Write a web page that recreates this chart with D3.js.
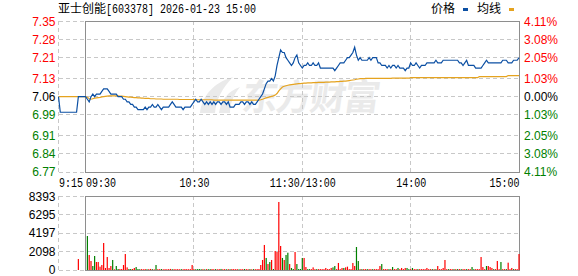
<!DOCTYPE html>
<html>
<head>
<meta charset="utf-8">
<script src="https://cdn.jsdelivr.net/npm/d3@7/dist/d3.min.js"></script>
<style>
  body { margin: 0; background: #fff; }
  svg { display: block; }
</style>
</head>
<body>
<script>
// ---- data ----
const stockName = '亚士创能';
const stockInfo = '[603378] 2026-01-23 15:00';
const legendNames = ['价格', '均线'];
const prevClose = 7.06;

const priceTicks = [7.35, 7.28, 7.21, 7.13, 7.06, 6.99, 6.91, 6.84, 6.77];
const priceLabels = ['7.35', '7.28', '7.21', '7.13', '7.06', '6.99', '6.91', '6.84', '6.77'];
const pctLabels = ['4.11%', '3.08%', '2.05%', '1.03%', '0.00%', '1.03%', '2.05%', '3.08%', '4.11%'];
const volTicks = [8393, 6295, 4197, 2098, 0];
const timeLabels = ['9:15', '09:30', '10:30', '11:30/13:00', '14:00', '15:00'];
const timeIdx = [0, 15, 75, 135, 195, 255]; // minutes after 9:15 on the axis (lunch removed)

// call auction 9:15 - 9:30
const prePrice = [7.06, 7.00, 7.00, 7.00, 7.00, 7.00, 7.00, 7.00, 7.00, 7.00, 7.00, 7.06, 7.06, 7.06, 7.06, 7.06];
const preAvg = [7.06, 7.06, 7.06, 7.06, 7.06, 7.06, 7.06, 7.06, 7.06, 7.06, 7.06, 7.06, 7.06, 7.06, 7.06, 7.06];
const preVolume = [0, 0, 0, 0, 0, 0, 0, 0, 0, 0, 0, 1250, 0, 0, 0, 0];

// one value per trading minute, 09:30 .. 11:30 then 13:01 .. 15:00
const price = [
  7.06, 7.05, 7.04, 7.06, 7.07, 7.06, 7.07, 7.07, 7.07, 7.08,
  7.09, 7.09, 7.09, 7.08, 7.07, 7.07, 7.07, 7.07, 7.06, 7.06,
  7.06, 7.05, 7.05, 7.04, 7.04, 7.03, 7.03, 7.02, 7.02, 7.01,
  7.01, 7.01, 7.01, 7.02, 7.01, 7.02, 7.02, 7.03, 7.02, 7.02,
  7.03, 7.02, 7.01, 7.02, 7.02, 7.02, 7.02, 7.03, 7.04, 7.03,
  7.02, 7.02, 7.02, 7.02, 7.01, 7.02, 7.02, 7.02, 7.02, 7.03,
  7.04, 7.05, 7.04, 7.04, 7.05, 7.04, 7.03, 7.04, 7.03, 7.04,
  7.03, 7.04, 7.03, 7.04, 7.04, 7.03, 7.04, 7.04, 7.03, 7.04,
  7.02, 7.02, 7.02, 7.03, 7.03, 7.03, 7.04, 7.04, 7.03, 7.04,
  7.04, 7.03, 7.04, 7.03, 7.03, 7.04, 7.05, 7.06, 7.07, 7.09,
  7.11, 7.12, 7.12, 7.13, 7.12, 7.14, 7.18, 7.21, 7.24, 7.23,
  7.23, 7.21, 7.20, 7.19, 7.18, 7.19, 7.21, 7.22, 7.19, 7.18,
  7.17, 7.18, 7.18, 7.19, 7.18, 7.18, 7.19, 7.18, 7.18, 7.19,
  7.17, 7.17, 7.17, 7.17, 7.17, 7.17, 7.17, 7.17, 7.16, 7.17,
  7.18, 7.19, 7.19, 7.19, 7.20, 7.21, 7.21, 7.22, 7.23, 7.25,
  7.22, 7.20, 7.21, 7.20, 7.20, 7.20, 7.20, 7.21, 7.20, 7.21,
  7.21, 7.21, 7.19, 7.19, 7.18, 7.18, 7.18, 7.17, 7.18, 7.17,
  7.18, 7.18, 7.17, 7.18, 7.17, 7.17, 7.17, 7.16, 7.17, 7.17,
  7.19, 7.18, 7.18, 7.19, 7.18, 7.17, 7.18, 7.18, 7.18, 7.19,
  7.19, 7.19, 7.19, 7.19, 7.20, 7.19, 7.19, 7.19, 7.20, 7.20,
  7.20, 7.20, 7.20, 7.20, 7.20, 7.20, 7.20, 7.19, 7.19, 7.18,
  7.19, 7.20, 7.18, 7.18, 7.18, 7.18, 7.17, 7.17, 7.17, 7.17,
  7.18, 7.19, 7.20, 7.19, 7.19, 7.19, 7.19, 7.19, 7.19, 7.19,
  7.19, 7.20, 7.20, 7.20, 7.19, 7.19, 7.19, 7.20, 7.20, 7.20,
  7.21
];

const avgPrice = [
  7.060, 7.058, 7.052, 7.050, 7.052, 7.054, 7.055, 7.056, 7.057, 7.059,
  7.060, 7.061, 7.062, 7.063, 7.063, 7.063, 7.063, 7.063, 7.063, 7.062,
  7.062, 7.061, 7.060, 7.059, 7.058, 7.058, 7.057, 7.056, 7.056, 7.055,
  7.055, 7.054, 7.054, 7.053, 7.053, 7.053, 7.052, 7.052, 7.052, 7.051,
  7.051, 7.051, 7.051, 7.050, 7.050, 7.050, 7.050, 7.050, 7.050, 7.050,
  7.050, 7.050, 7.049, 7.049, 7.049, 7.049, 7.049, 7.049, 7.049, 7.049,
  7.049, 7.048, 7.048, 7.048, 7.048, 7.048, 7.048, 7.048, 7.048, 7.048,
  7.048, 7.047, 7.047, 7.047, 7.047, 7.047, 7.047, 7.047, 7.047, 7.047,
  7.047, 7.047, 7.047, 7.047, 7.047, 7.047, 7.047, 7.047, 7.047, 7.047,
  7.047, 7.047, 7.047, 7.047, 7.047, 7.047, 7.047, 7.048, 7.050, 7.053,
  7.055, 7.057, 7.059, 7.061, 7.063, 7.066, 7.072, 7.082, 7.090, 7.097,
  7.100, 7.102, 7.104, 7.105, 7.106, 7.107, 7.108, 7.109, 7.110, 7.110,
  7.111, 7.112, 7.112, 7.113, 7.113, 7.113, 7.114, 7.114, 7.114, 7.115,
  7.115, 7.115, 7.115, 7.116, 7.116, 7.116, 7.117, 7.117, 7.117, 7.118,
  7.118, 7.119, 7.119, 7.120, 7.120, 7.121, 7.122, 7.123, 7.124, 7.125,
  7.127, 7.128, 7.129, 7.129, 7.129, 7.130, 7.130, 7.130, 7.130, 7.130,
  7.130, 7.130, 7.130, 7.130, 7.130, 7.130, 7.130, 7.130, 7.130, 7.130,
  7.131, 7.131, 7.131, 7.131, 7.131, 7.131, 7.131, 7.131, 7.131, 7.131,
  7.133, 7.133, 7.133, 7.133, 7.133, 7.133, 7.133, 7.133, 7.133, 7.133,
  7.133, 7.133, 7.133, 7.133, 7.133, 7.133, 7.133, 7.133, 7.133, 7.133,
  7.133, 7.133, 7.133, 7.133, 7.133, 7.133, 7.133, 7.133, 7.133, 7.133,
  7.133, 7.133, 7.133, 7.133, 7.133, 7.133, 7.133, 7.133, 7.137, 7.137,
  7.137, 7.137, 7.137, 7.137, 7.137, 7.137, 7.137, 7.137, 7.137, 7.137,
  7.137, 7.137, 7.137, 7.137, 7.141, 7.141, 7.141, 7.141, 7.141, 7.141,
  7.141
];

const volume = [
  0, 3870, 1710, 1025, 455, 1595, 910, 910, 380, 570,
  3075, 230, 1480, 230, 455, 1140, 80, 455, 115, 115,
  115, 570, 1820, 300, 115, 115, 115, 230, 340, 115,
  90, 100, 80, 110, 90, 100, 120, 90, 80, 570,
  100, 90, 110, 80, 100, 90, 100, 120, 90, 100,
  90, 100, 80, 100, 90, 110, 100, 90, 100, 570,
  100, 90, 100, 110, 90, 100, 80, 100, 90, 100,
  110, 90, 100, 80, 100, 120, 90, 100, 80, 100,
  90, 110, 100, 90, 100, 80, 100, 90, 110, 100,
  90, 100, 80, 100, 90, 100, 110, 570, 1140, 2850,
  1370, 680, 910, 1140, 115, 2165, 2050, 7745, 2735, 1370,
  1140, 1710, 1970, 680, 230, 115, 2050, 680, 115, 115,
  1370, 1370, 340, 100, 100, 100, 300, 100, 100, 100,
  100, 100, 100, 230, 100, 100, 230, 300, 455, 100,
  800, 100, 230, 230, 300, 380, 100, 100, 800, 455,
  2620, 1025, 100, 100, 100, 100, 100, 100, 100, 100,
  100, 100, 100, 455, 680, 100, 100, 100, 100, 100,
  340, 100, 100, 230, 100, 230, 100, 230, 230, 100,
  100, 230, 100, 100, 100, 100, 100, 100, 100, 230,
  100, 100, 100, 100, 100, 455, 100, 100, 230, 1140,
  100, 100, 100, 100, 100, 100, 100, 100, 100, 100,
  100, 100, 100, 100, 340, 100, 100, 100, 100, 1480,
  340, 100, 455, 455, 340, 230, 100, 100, 1025, 100,
  910, 100, 100, 100, 835, 100, 230, 100, 100, 100,
  1820
];

// R = up minute (red), G = down minute (green)
const volDir = (
  'RGRRGGRRRR' + 'RRRRRGRGGR' + 'RRRRGGRRGG' + 'GRRRGRRGRG' + 'RRGRRRRRGR' +
  'RRRGRRRRRR' + 'RGGGGRGRGG' + 'RRGRRGRRGR' + 'GRRRRGRRGR' + 'RGRGRRRRRR' +
  'GRGRGRRRRG' + 'RGGRGGRGGG' + 'GRRGGRRRGR' + 'RRRRRRRGGR' + 'RRRGRRRRRR' +
  'GGRGRRGRRG' + 'RRRRGRRRGR' + 'GRRGRRRRGG' + 'RGRRGRRRRR' + 'RRGRGRRRRR' +
  'RGRRGRGRGR' + 'RGRRGGRRRR' + 'RRGRRRGRRR' + 'GRRGRRRGRRR'
).split('');

// ---- drawing ----
const OPEN = 15;
const up = '#ff0000', down = '#008000', flat = '#000000';
const gridColor = '#c8c8c8', boxColor = '#8e8e8e';
const labelFont = '"Liberation Sans", Arial, sans-serif';
const monoFont = '"Liberation Mono", "DejaVu Sans Mono", monospace';
const cjkFont = '"Noto Sans CJK SC", sans-serif';

const svg = d3.select('body').append('svg')
  .attr('width', 578)
  .attr('height', 276);

const x = d3.scaleLinear().domain([0, 255]).range([58.5, 519]);
const yP = d3.scaleLinear().domain([6.77, 7.35]).range([172, 21.3]);
const yV = d3.scaleLinear().domain([0, 8393]).range([270, 196.3]);

const colorOf = v => v > prevClose ? up : (v < prevClose ? down : flat);

// watermark
const wm = svg.append('g').attr('fill', '#eaeaea');
wm.append('path').attr('d', 'M200,113 C202,96 213,83 233,77 C222,88 216,100 215,113 Z');
wm.append('path').attr('d', 'M219,113 C221,100 228,91 240,87 C233,96 230,104 230,113 Z');
wm.append('text')
  .attr('x', 241).attr('y', 110)
  .attr('font-family', cjkFont)
  .attr('font-size', 36)
  .attr('font-weight', 'bold')
  .attr('textLength', 138)
  .attr('transform', 'skewX(-8) translate(15,0)')
  .text('东方财富');

// grids
const grid = svg.append('g')
  .attr('stroke', gridColor)
  .attr('stroke-dasharray', '4,3')
  .attr('shape-rendering', 'crispEdges');

priceTicks.forEach(p => {
  grid.append('line')
    .attr('x1', x(0)).attr('x2', x(255))
    .attr('y1', yP(p)).attr('y2', yP(p));
});
volTicks.forEach(v => {
  grid.append('line')
    .attr('x1', x(0)).attr('x2', x(255))
    .attr('y1', yV(v)).attr('y2', yV(v));
});
[0, 75, 135, 195].forEach(t => {
  grid.append('line')
    .attr('x1', x(t)).attr('x2', x(t))
    .attr('y1', yP(7.35)).attr('y2', yP(6.77));
  grid.append('line')
    .attr('x1', x(t)).attr('x2', x(t))
    .attr('y1', yV(8393)).attr('y2', yV(0));
});

// solid boxes (trading session)
svg.append('rect')
  .attr('x', x(OPEN)).attr('y', yP(7.35))
  .attr('width', x(255) - x(OPEN)).attr('height', yP(6.77) - yP(7.35))
  .attr('fill', 'none').attr('stroke', boxColor)
  .attr('shape-rendering', 'crispEdges');
svg.append('rect')
  .attr('x', x(OPEN)).attr('y', yV(8393))
  .attr('width', x(255) - x(OPEN)).attr('height', yV(0) - yV(8393))
  .attr('fill', 'none').attr('stroke', boxColor)
  .attr('shape-rendering', 'crispEdges');

// volume bars
const bars = preVolume.map((v, i) => ({t: i, v, d: 'R'}))
  .concat(volume.map((v, i) => ({t: i + OPEN, v, d: volDir[i]})))
  .filter(b => b.v > 0);

svg.append('g').selectAll('rect')
  .data(bars)
  .enter().append('rect')
  .attr('x', d => x(d.t) - 0.6)
  .attr('width', 1.2)
  .attr('y', d => yV(d.v))
  .attr('height', d => yV(0) - yV(d.v))
  .attr('fill', d => d.d === 'R' ? up : down);

// price and average lines
const priceSeries = prePrice.map((p, i) => [i, p]).concat(price.map((p, i) => [i + OPEN, p]));
const avgSeries = preAvg.map((p, i) => [i, p]).concat(avgPrice.map((p, i) => [i + OPEN, p]));
const line = d3.line().x(d => x(d[0])).y(d => yP(d[1]));

svg.append('path')
  .datum(avgSeries)
  .attr('d', line)
  .attr('fill', 'none')
  .attr('stroke', '#e5a31f')
  .attr('stroke-width', 1.2);

svg.append('path')
  .datum(priceSeries)
  .attr('d', line)
  .attr('fill', 'none')
  .attr('stroke', '#0b4fa3')
  .attr('stroke-width', 1.2);

// axes
const leftAxis = svg.append('g')
  .attr('transform', `translate(${x(0)},0)`)
  .call(d3.axisLeft(yP).tickValues(priceTicks).tickSize(0).tickPadding(3)
    .tickFormat((d, i) => priceLabels[i]));
leftAxis.select('.domain').remove();
leftAxis.selectAll('text')
  .attr('font-family', labelFont).attr('font-size', 12)
  .attr('fill', d => colorOf(d));

const rightAxis = svg.append('g')
  .attr('transform', `translate(${x(255)},0)`)
  .call(d3.axisRight(yP).tickValues(priceTicks).tickSize(0).tickPadding(5)
    .tickFormat((d, i) => pctLabels[i]));
rightAxis.select('.domain').remove();
rightAxis.selectAll('text')
  .attr('font-family', labelFont).attr('font-size', 12)
  .attr('fill', d => colorOf(d));

const volAxis = svg.append('g')
  .attr('transform', `translate(${x(0)},0)`)
  .call(d3.axisLeft(yV).tickValues(volTicks).tickSize(0).tickPadding(3)
    .tickFormat(d3.format('d')));
volAxis.select('.domain').remove();
volAxis.selectAll('text')
  .attr('font-family', labelFont).attr('font-size', 12)
  .attr('fill', '#000');

const timeAxis = svg.append('g')
  .attr('transform', `translate(0,${yP(6.77)})`)
  .call(d3.axisBottom(x).tickValues(timeIdx).tickSize(0)
    .tickFormat((d, i) => timeLabels[i]));
timeAxis.select('.domain').remove();
timeAxis.selectAll('text')
  .attr('font-family', monoFont).attr('font-size', 12)
  .attr('fill', '#000')
  .attr('y', 14.5).attr('dy', 0)
  .attr('textLength', d => timeLabels[timeIdx.indexOf(d)].length * 6)
  .attr('lengthAdjust', 'spacingAndGlyphs')
  .attr('text-anchor', (d, i) => i < 2 ? 'start' : (i === timeIdx.length - 1 ? 'end' : 'middle'));

// title
svg.append('text')
  .attr('x', 58).attr('y', 13)
  .attr('font-family', cjkFont).attr('font-size', 12)
  .text(stockName);
svg.append('text')
  .attr('x', 106).attr('y', 13)
  .attr('font-family', monoFont).attr('font-size', 12)
  .attr('textLength', stockInfo.length * 6)
  .attr('lengthAdjust', 'spacingAndGlyphs')
  .text(stockInfo);

// legend
const legendX = [431, 477];
const legendColors = ['#0b4fa3', '#e5a31f'];
legendNames.forEach((name, i) => {
  svg.append('text')
    .attr('x', legendX[i]).attr('y', 13)
    .attr('font-family', cjkFont).attr('font-size', 12)
    .text(name);
  svg.append('rect')
    .attr('x', legendX[i] + 32).attr('y', 8)
    .attr('width', 5).attr('height', 3)
    .attr('fill', legendColors[i]);
});
</script>
</body>
</html>
